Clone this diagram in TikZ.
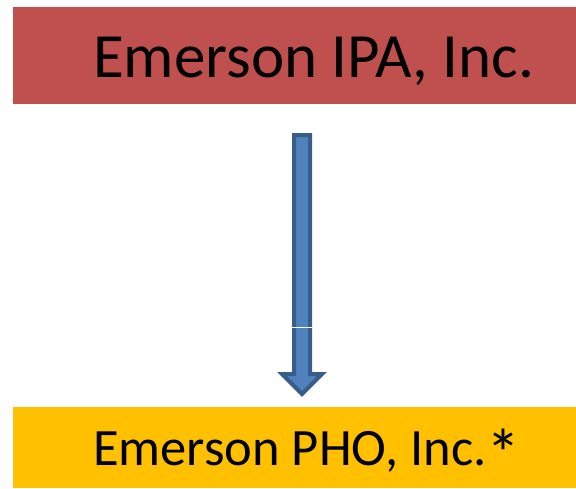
\documentclass[tikz,border=0pt]{standalone}
\usepackage{fontspec}
\usepackage{graphicx}
\setmainfont{Carlito}
\definecolor{boxred}{HTML}{C0504D}
\definecolor{boxorange}{HTML}{FFC000}
\definecolor{arrowfill}{HTML}{4F81BD}
\definecolor{arrowline}{HTML}{385D8A}
\begin{document}
\begin{tikzpicture}[x=1pt,y=-1pt,
  bandbox/.style={inner sep=0pt, outer sep=0pt, draw=none},
  bandtext/.style={inner sep=0pt, anchor=base west},
  blockarrow/.style={fill=arrowfill, draw=arrowline, line width=4pt, line join=miter}]
\useasboundingbox (0,0) rectangle (576,488);
\fill[white] (0,0) rectangle (576,488);
\node[bandbox, fill=boxred, minimum width=563pt, minimum height=97pt, anchor=north west] (top) at (13,7) {};
\node[bandbox, fill=boxorange, minimum width=563pt, minimum height=81pt, anchor=north west] (bot) at (13,407) {};
\node[bandtext, font=\fontsize{63}{64}\selectfont] (toptext) at (93,77) {Emerson IPA, Inc.};
\node[bandtext, font=\fontsize{52.5}{54}\selectfont] (bottext) at (93,465) {Emerson PHO, Inc.\raisebox{-0.23em}{\scalebox{1.3}{*}}};
% block arrow
\coordinate (as) at (302,135);
\coordinate (ae) at (302,394);
\draw[blockarrow] ([xshift=-8pt]as) -- ([xshift=8pt]as) -- ([xshift=8pt,yshift=20pt]ae) -- ([xshift=20pt,yshift=20pt]ae) -- (ae) -- ([xshift=-20pt,yshift=20pt]ae) -- ([xshift=-8pt,yshift=20pt]ae) -- cycle;
\draw[white, line width=0.8pt] (291,327) -- (313,327);
\end{tikzpicture}
\end{document}
